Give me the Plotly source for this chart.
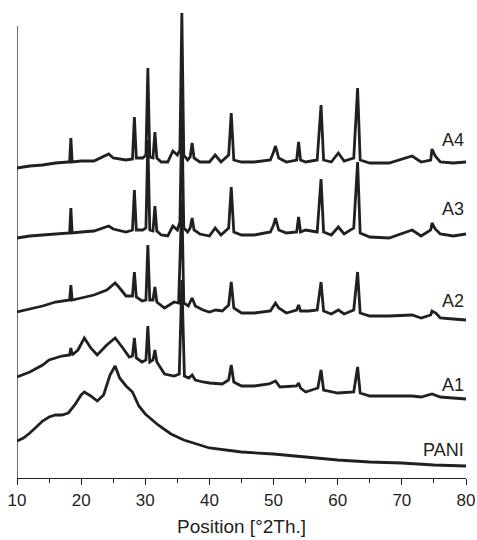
import plotly.graph_objects as go

# ---- data (intensity, a.u., stacked patterns) ----
a4_x = [10, 12, 14, 16, 18, 18.2, 18.4, 18.6, 20, 22, 24.3, 25, 27, 28.0, 28.3, 28.6, 29.6, 30.1, 30.4, 30.7,
        31.2, 31.5, 31.8, 32.5, 33.5, 34.3, 35.0, 35.4, 35.7, 36.0, 36.6, 37.0, 37.3, 37.6, 38.5, 40, 40.9, 41.8,
        43.0, 43.4, 43.8, 45, 47, 49.5, 50.0, 50.3, 50.8, 52, 53.6, 53.9, 54.2, 55, 56.8, 57.4, 57.8, 59, 60.1,
        61, 62.5, 63.1, 63.5, 65, 68, 71.6, 73, 74.5, 74.7, 75.2, 76, 78, 80]
a4_y = [310, 312, 313, 315, 316, 316, 340, 316, 317, 317, 324, 320, 318, 319, 361, 320, 320, 323, 410, 321,
        320, 346, 320, 316, 316, 327, 323, 328, 465, 323, 318, 321, 335, 320, 316, 316, 323, 316,
        323, 365, 318, 316, 316, 318, 326, 332, 320, 316, 318, 336, 318, 316, 318, 373, 318, 316, 325,
        317, 320, 390, 318, 315, 315, 322, 316, 318, 329, 322, 316, 315, 316]

a3_x = a4_x
a3_y = [240, 242, 243, 244, 245, 245, 270, 245, 246, 247, 252, 249, 246, 248, 288, 248, 248, 250, 338, 248,
        247, 272, 247, 243, 242, 252, 248, 256, 368, 250, 246, 250, 260, 248, 244, 242, 250, 243,
        250, 291, 246, 243, 243, 246, 253, 260, 248, 245, 246, 261, 246, 248, 246, 299, 246, 243, 251,
        244, 250, 316, 245, 241, 240, 248, 242, 248, 255, 249, 244, 242, 244]

a2_x = [10, 12, 14, 16, 18.2, 18.4, 18.6, 20, 22, 24, 25.3, 26, 27, 28.0, 28.3, 28.6, 29.5, 30.1, 30.4, 30.7,
        31.2, 31.5, 31.8, 33, 34.5, 35.2, 35.7, 36.0, 36.7, 37.3, 37.8, 39, 40, 41, 42, 43.0, 43.4, 43.8,
        45, 47, 49.5, 50.3, 50.8, 52, 53.6, 53.9, 54.2, 55.5, 56.8, 57.4, 57.8, 59, 60.1, 61, 62.5, 63.1,
        63.5, 65, 68, 71.6, 73, 74.5, 74.7, 75.3, 76, 78, 80]
a2_y = [166, 169, 172, 176, 178, 193, 178, 180, 183, 188, 195, 190, 182, 182, 206, 181, 177, 178, 233, 178,
        178, 191, 176, 170, 176, 175, 278, 175, 172, 180, 172, 168, 166, 168, 167, 173, 196, 170,
        165, 165, 167, 175, 170, 165, 168, 173, 167, 167, 168, 196, 167, 164, 168, 164, 168, 206,
        165, 162, 162, 163, 160, 163, 167, 165, 160, 159, 158]

a1_x = [10, 12, 14, 15, 17, 18.2, 18.4, 18.6, 19.5, 20.5, 21.5, 22.5, 24, 25.3, 26.5, 27.5, 28.0, 28.3, 28.6,
        29.5, 30.1, 30.4, 30.7, 31.2, 31.5, 31.8, 33, 34.5, 35.3, 35.7, 36.1, 36.8, 37.3, 37.8, 39, 40, 42,
        43.0, 43.4, 43.8, 45, 47, 49.3, 50.3, 51, 53.6, 53.9, 54.2, 55, 56.9, 57.4, 57.8, 60, 62.5, 63.1,
        63.5, 65, 68, 71.6, 73, 74.7, 76, 78, 80]
a1_y = [101, 106, 113, 118, 122, 123, 130, 123, 128, 140, 130, 123, 133, 140, 130, 121, 122, 140, 120,
        116, 118, 152, 116, 118, 128, 116, 104, 102, 104, 198, 102, 100, 103, 98, 96, 95, 94,
        98, 113, 96, 92, 92, 94, 97, 91, 92, 95, 90, 86, 90, 108, 88, 85, 86, 111,
        85, 82, 82, 82, 81, 84, 81, 80, 79]

pani_x = [10, 11, 12, 13, 14, 15, 16, 17, 18, 19, 20, 20.5, 21.5, 22.5, 23.5, 24.5, 25.3, 26, 27, 28, 29, 30,
          31, 32, 34, 36, 40, 45, 50, 55, 60, 65, 70, 75, 80]
pani_y = [37, 40, 45, 51, 57, 61, 63, 63, 65, 73, 83, 86, 82, 77, 83, 103, 112, 100, 92, 86, 72, 64,
          58, 53, 44, 38, 30, 26, 24, 21, 18, 16, 15, 13, 12]

labels = ["A4", "A3", "A2", "A1", "PANI"]
label_y = [338, 269, 177, 93, 28]

x_ticks = [10, 20, 30, 40, 50, 60, 70, 80]
x_title = "Position [°2Th.]"

Y_MAX = 468
Y_AXIS_TOP = 452
INK = "#231f20"
FONT = "Liberation Sans, Arial, sans-serif"

fig = go.Figure()
for xs, ys in [(a4_x, a4_y), (a3_x, a3_y), (a2_x, a2_y), (a1_x, a1_y), (pani_x, pani_y)]:
    fig.add_trace(go.Scatter(x=xs, y=ys, mode="lines",
                             line=dict(color=INK, width=2.8), showlegend=False,
                             hoverinfo="skip"))

for t, yv in zip(labels, label_y):
    fig.add_annotation(x=80, y=yv, xref="x", yref="y", text=t, showarrow=False,
                       xanchor="right", yanchor="middle",
                       font=dict(family=FONT, size=18, color=INK))

# x-axis title as an annotation below the tick labels
fig.add_annotation(x=0.5, y=0, xref="paper", yref="paper", text=x_title, showarrow=False,
                   xanchor="center", yanchor="top", yshift=-36,
                   font=dict(family=FONT, size=19, color=INK))

# y axis line (does not span the full plot height)
fig.add_shape(type="line", xref="x", yref="y", x0=10, x1=10, y0=0, y1=Y_AXIS_TOP,
              line=dict(color=INK, width=1.3))

fig.update_layout(
    width=477, height=540,
    margin=dict(l=17, r=11, t=10, b=62, autoexpand=False),
    paper_bgcolor="white", plot_bgcolor="white",
    font=dict(family=FONT, color=INK),
    xaxis=dict(range=[10, 80], tickvals=x_ticks, ticks="outside", ticklen=6, tickwidth=1.2,
               tickcolor=INK, showline=True, linecolor=INK, linewidth=1.3, automargin=False,
               showgrid=False, zeroline=False, tickfont=dict(size=17),
               minor=dict(dtick=5, tick0=10, ticks="outside", ticklen=4, tickwidth=1.2, tickcolor=INK)),
    yaxis=dict(range=[0, Y_MAX], showticklabels=False, ticks="", showgrid=False,
               zeroline=False, showline=False, automargin=False),
)

fig.write_html("out.html", config={"displayModeBar": False},
               post_script="document.body.style.margin='0';document.body.style.overflow='hidden';")
